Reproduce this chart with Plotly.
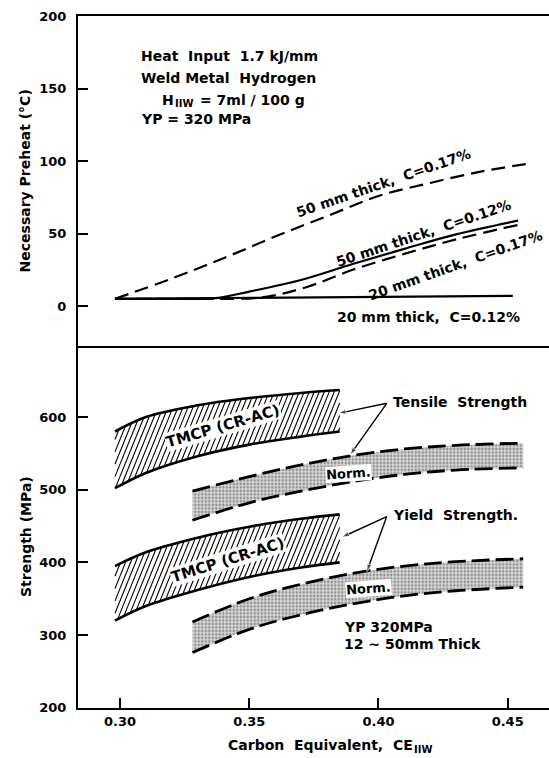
import numpy as np
import plotly.graph_objects as go

# ---------------- data ----------------
# Necessary preheat (deg C) vs carbon equivalent CE_IIW
ce_50_c17 = [0.298, 0.32, 0.34, 0.36, 0.38, 0.40, 0.42, 0.44, 0.457]
ph_50_c17 = [5, 19, 33, 48, 62, 76, 85, 93, 98]

ce_50_c12 = [0.298, 0.32, 0.337, 0.35, 0.37, 0.39, 0.41, 0.43, 0.454]
ph_50_c12 = [5, 5, 5.5, 10, 18, 29, 39.5, 49.5, 59]

ce_20_c17 = [0.298, 0.33, 0.355, 0.372, 0.39, 0.41, 0.43, 0.454]
ph_20_c17 = [5, 5, 6, 13, 25, 36, 46, 56]

ce_20_c12 = [0.298, 0.40, 0.452]
ph_20_c12 = [5, 6, 7]

# Strength bands (MPa): TMCP (CR-AC) and normalized steel
ce_tmcp = [0.298, 0.31, 0.33, 0.35, 0.37, 0.385]
ts_tmcp_hi = [580, 600, 616, 626, 633, 637]
ts_tmcp_lo = [502, 523, 546, 562, 573, 580]
ys_tmcp_hi = [395, 414, 434, 449, 460, 466]
ys_tmcp_lo = [320, 340, 362, 380, 393, 400]

ce_norm = [0.328, 0.35, 0.37, 0.39, 0.41, 0.43, 0.456]
ts_norm_hi = [498, 518, 534, 547, 556, 561, 564]
ts_norm_lo = [458, 482, 498, 511, 521, 527, 530]
ys_norm_hi = [318, 350, 370, 385, 395, 401, 405]
ys_norm_lo = [276, 308, 328, 343, 354, 361, 366]

x_ticks = [0.30, 0.35, 0.40, 0.45]
x_ticklabels = ["0.30", "0.35", "0.40", "0.45"]
preheat_ticks = [0, 50, 100, 150, 200]
strength_ticks = [200, 300, 400, 500, 600]

# ---------------- layout geometry ----------------
W, H = 549, 758
ML, MR, MT, MB = 78, 0, 16, 50
PLOT_H = H - MT - MB
SPLIT = 362.3 / PLOT_H          # fraction of plot height used by lower panel
X_RANGE = [0.2837, 0.466]
Y_BOT_RANGE = [199.8, 698]
Y_TOP_RANGE = [-27.4, 200.3]

FONT = "DejaVu Sans, Verdana, sans-serif"
INK = "black"

# pixel scales of the lower panel (used to lay out the hatch lines)
SX = (W - ML - MR) / (X_RANGE[1] - X_RANGE[0])
SY = (SPLIT * PLOT_H) / (Y_BOT_RANGE[1] - Y_BOT_RANGE[0])


def smooth(xs, ys, n=200):
    """Monotone cubic resampling of a curve, used for hatch clipping."""
    xs = np.asarray(xs, float)
    ys = np.asarray(ys, float)
    h = np.diff(xs)
    d = np.diff(ys) / h
    m = np.zeros_like(ys)
    m[0], m[-1] = d[0], d[-1]
    for i in range(1, len(xs) - 1):
        if d[i - 1] * d[i] > 0:
            w1 = 2 * h[i] + h[i - 1]
            w2 = h[i] + 2 * h[i - 1]
            m[i] = (w1 + w2) / (w1 / d[i - 1] + w2 / d[i])
    xg = np.linspace(xs[0], xs[-1], n)
    idx = np.clip(np.searchsorted(xs, xg) - 1, 0, len(xs) - 2)
    t = (xg - xs[idx]) / h[idx]
    h00 = 2 * t**3 - 3 * t**2 + 1
    h10 = t**3 - 2 * t**2 + t
    h01 = -2 * t**3 + 3 * t**2
    h11 = t**3 - t**2
    yg = (h00 * ys[idx] + h10 * h[idx] * m[idx]
          + h01 * ys[idx + 1] + h11 * h[idx] * m[idx + 1])
    return xg, yg


def hatch_lines(xs, lo, hi, spacing_px=5.0, angle_deg=68):
    """Diagonal hatch segments clipped to the band between lo and hi."""
    xg, lo_g = smooth(xs, lo)
    _, hi_g = smooth(xs, hi)
    cot = 1.0 / np.tan(np.radians(angle_deg))
    y0 = min(lo_g)
    y1 = max(hi_g)
    py = np.linspace(0, (y1 - y0) * SY, 600)
    px_min = (xg[0] - X_RANGE[0]) * SX - py.max() * cot
    px_max = (xg[-1] - X_RANGE[0]) * SX
    hx, hy = [], []
    for c in np.arange(px_min, px_max, spacing_px):
        px = c + py * cot
        x = X_RANGE[0] + px / SX
        y = y0 + py / SY
        inside = (x >= xg[0]) & (x <= xg[-1])
        lo_i = np.interp(x, xg, lo_g)
        hi_i = np.interp(x, xg, hi_g)
        inside &= (y >= lo_i) & (y <= hi_i)
        k = np.nonzero(inside)[0]
        if len(k) < 2:
            continue
        hx += [x[k[0]], x[k[-1]], None]
        hy += [y[k[0]], y[k[-1]], None]
    return hx, hy


fig = go.Figure()

# ---------------- upper panel: preheat curves ----------------
dash_top = "14px,7px"
fig.add_trace(go.Scatter(x=ce_20_c12, y=ph_20_c12, mode="lines",
                         line=dict(color=INK, width=2.2),
                         xaxis="x2", yaxis="y2"))
fig.add_trace(go.Scatter(x=ce_50_c12, y=ph_50_c12, mode="lines",
                         line=dict(color=INK, width=2.2, shape="spline"),
                         xaxis="x2", yaxis="y2"))
fig.add_trace(go.Scatter(x=ce_20_c17, y=ph_20_c17, mode="lines",
                         line=dict(color=INK, width=2.2, dash=dash_top, shape="spline"),
                         xaxis="x2", yaxis="y2"))
fig.add_trace(go.Scatter(x=ce_50_c17, y=ph_50_c17, mode="lines",
                         line=dict(color=INK, width=2.2, dash=dash_top, shape="spline"),
                         xaxis="x2", yaxis="y2"))

# ---------------- lower panel: strength bands ----------------
dash_bot = "18px,6px"
for lo, hi in [(ts_norm_lo, ts_norm_hi), (ys_norm_lo, ys_norm_hi)]:
    fig.add_trace(go.Scatter(x=ce_norm, y=lo, mode="lines",
                             line=dict(color=INK, width=2.8, dash=dash_bot, shape="spline")))
    fig.add_trace(go.Scatter(x=ce_norm, y=hi, mode="lines", fill="tonexty",
                             fillcolor="white",
                             fillpattern=dict(shape=".", fgcolor="#4a4a4a",
                                              bgcolor="#d6d6d6", size=3.5, solidity=0.4),
                             line=dict(color=INK, width=2.8, dash=dash_bot, shape="spline")))

for lo, hi in [(ts_tmcp_lo, ts_tmcp_hi), (ys_tmcp_lo, ys_tmcp_hi)]:
    hx, hy = hatch_lines(ce_tmcp, lo, hi)
    fig.add_trace(go.Scatter(x=hx, y=hy, mode="lines",
                             line=dict(color=INK, width=1.1)))
    fig.add_trace(go.Scatter(x=ce_tmcp, y=lo, mode="lines",
                             line=dict(color=INK, width=2.6, shape="spline")))
    fig.add_trace(go.Scatter(x=ce_tmcp, y=hi, mode="lines",
                             line=dict(color=INK, width=2.6, shape="spline")))

# leader arrows from the band names to the bands
for (x0, y0), targets in [((0.4032, 618.8), [(0.3845, 605), (0.3890, 547.8)]),
                          ((0.4032, 463.0), [(0.3858, 434.6), (0.3955, 387.4)])]:
    for tx, ty in targets:
        fig.add_trace(go.Scatter(
            x=[x0, tx], y=[y0, ty], mode="lines+markers",
            line=dict(color=INK, width=1.4),
            marker=dict(symbol="arrow", size=[0, 8], angleref="previous",
                        color=INK)))

# ---------------- annotations ----------------
ann = []


def text(x, y, s, size=14, xref="x", yref="y", angle=0, xanchor="center",
         bg=None):
    d = dict(x=x, y=y, xref=xref, yref=yref, text=s, showarrow=False,
             textangle=angle, xanchor=xanchor, yanchor="middle",
             font=dict(family=FONT, size=size, color=INK, weight="bold"))
    if bg:
        d.update(bgcolor=bg, borderpad=0)
    ann.append(d)


# info block, upper panel (the IIW subscript is set as its own smaller text)
text(0.3072, 173, "Heat  Input  1.7 kJ/mm", 14, "x2", "y2", xanchor="left")
text(0.3072, 157.7, "Weld Metal  Hydrogen", 14, "x2", "y2", xanchor="left")
text(0.3216, 142.6, "H", 14, "x2", "y2", xanchor="right")
text(0.3205, 139.8, "IIW", 10, "x2", "y2", xanchor="left")
text(0.3300, 142.6, "= 7ml / 100 g", 14, "x2", "y2", xanchor="left")
text(0.3072, 129, "YP = 320 MPa", 14, "x2", "y2", xanchor="left")

# curve labels, upper panel
text(0.4018, 85.0, "50 mm thick,  C=0.17%", 14, "x2", "y2", angle=-19)
text(0.4176, 50.5, "50 mm thick,  C=0.12%", 14, "x2", "y2", angle=-18.5)
text(0.4300, 28.0, "20 mm thick,  C=0.17%", 14, "x2", "y2", angle=-19.5)
text(0.4192, -7.4, "20 mm thick,  C=0.12%", 14, "x2", "y2")

# band labels, lower panel
text(0.3399, 587.6, "TMCP (CR-AC)", 15, angle=-16.5, bg="white")
text(0.3416, 403.4, "TMCP (CR-AC)", 15, angle=-17.5, bg="white")
text(0.3885, 522.6, "Norm.", 13, angle=-4, bg="white")
text(0.3963, 364.5, "Norm.", 13, angle=-4, bg="white")
text(0.4047, 621, "Tensile  Strength", 14, xanchor="left")
text(0.4047, 465.3, "Yield  Strength.", 14, xanchor="left")
text(0.3858, 311.8, "YP 320MPa", 14, xanchor="left")
text(0.3858, 288, "12 ~ 50mm Thick", 14, xanchor="left")


def px_paper(px, py):
    return (px - ML) / (W - ML - MR), (H - MB - py) / PLOT_H


title_font = dict(family=FONT, size=14, color=INK, weight="bold")

# vertical title of the lower panel
tx, ty = px_paper(26, 537)
text(tx, ty, "Strength (MPa)", 14, "paper", "paper", angle=-90)

# x-axis title with its IIW subscript
tx, ty = px_paper(415, 745)
text(tx, ty, "Carbon  Equivalent,  CE", 14, "paper", "paper", xanchor="right")
tx, ty = px_paper(412, 749)
text(tx, ty, "IIW", 10, "paper", "paper", xanchor="left")

tick_font = dict(family=FONT, size=13, color=INK, weight="bold")
axis_common = dict(showgrid=False, zeroline=False, showline=True,
                   linecolor=INK, linewidth=2.2)

fig.update_layout(
    width=W, height=H,
    margin=dict(l=ML, r=MR, t=MT, b=MB),
    paper_bgcolor="white", plot_bgcolor="white",
    showlegend=False,
    annotations=ann,
    xaxis=dict(**axis_common, domain=[0, 1], range=X_RANGE, anchor="y",
               tickvals=x_ticks, ticktext=x_ticklabels, ticks="inside",
               ticklen=10, tickwidth=1.6, tickcolor=INK, tickfont=tick_font),
    xaxis2=dict(**axis_common, domain=[0, 1], range=X_RANGE, anchor="y2",
                mirror=True, showticklabels=False, ticks=""),
    yaxis=dict(**axis_common, domain=[0, SPLIT], range=Y_BOT_RANGE,
               anchor="x", tickvals=strength_ticks, ticks="inside",
               ticklen=10, tickwidth=1.6, tickcolor=INK, tickfont=tick_font,
               ticklabelstandoff=7),
    yaxis2=dict(**axis_common, domain=[SPLIT, 1], range=Y_TOP_RANGE,
                anchor="x2", tickvals=preheat_ticks, ticks="inside",
                ticklen=10, tickwidth=1.6, tickcolor=INK, tickfont=tick_font,
                ticklabelstandoff=7,
                title=dict(text="Necessary Preheat (°C)", font=title_font,
                           standoff=5)),
)

fig.write_html("out.html")
